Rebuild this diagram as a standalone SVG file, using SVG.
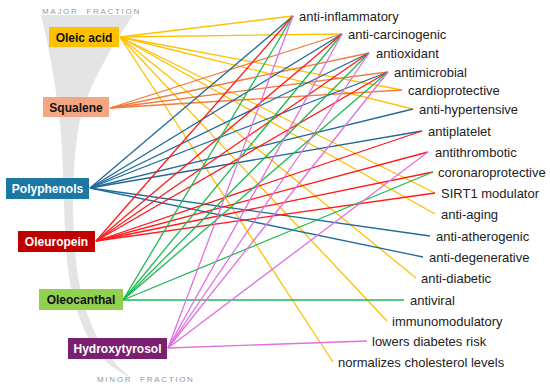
<svg xmlns="http://www.w3.org/2000/svg" width="550" height="389" viewBox="0 0 550 389">
<style>
.lbl{font-family:"Liberation Sans",Arial,sans-serif;font-size:13px;fill:#222}
.nt{font-family:"Liberation Sans",Arial,sans-serif;font-size:12px;font-weight:bold;text-anchor:middle}
.fr{font-family:"Liberation Sans",Arial,sans-serif;font-size:8px;fill:#999;letter-spacing:1.7px;word-spacing:4px}
#connectors line{stroke-width:1.3;fill:none}
.g{stroke:#FFC000}.o{stroke:#F27A3C}.b{stroke:#1F6A98}.r{stroke:#FF1A1A}.gr{stroke:#1DB954}.v{stroke:#E070E0}
</style>
<path d="M41,15 L133,15 C110,50 85,90 78,130 C72,170 72,215 75,250 C78,290 88,325 105,350 C113,362 122,371 132,378 C118,372 106,363 97,352 C80,328 70,295 67,260 C64,225 64,190 62,150 C60,110 52,60 41,15 Z" fill="#E4E4E4"/>
<text class="fr" x="42" y="14">MAJOR FRACTION</text>
<text class="fr" x="97" y="382">MINOR FRACTION</text>
<g id="connectors">
<line class="g" x1="120" y1="37" x2="293" y2="16"/>
<line class="g" x1="120" y1="37" x2="342" y2="34"/>
<line class="g" x1="120" y1="37" x2="402" y2="90"/>
<line class="g" x1="120" y1="37" x2="413" y2="109"/>
<line class="g" x1="120" y1="37" x2="435" y2="193"/>
<line class="g" x1="120" y1="37" x2="435" y2="214"/>
<line class="g" x1="120" y1="37" x2="416" y2="278"/>
<line class="g" x1="120" y1="37" x2="387" y2="321"/>
<line class="g" x1="120" y1="37" x2="333" y2="362"/>
<line class="o" x1="110" y1="108" x2="342" y2="34"/>
<line class="o" x1="110" y1="108" x2="369" y2="53"/>
<line class="o" x1="110" y1="108" x2="388" y2="72"/>
<line class="o" x1="110" y1="108" x2="402" y2="90"/>
<line class="b" x1="90" y1="188" x2="293" y2="16"/>
<line class="b" x1="90" y1="188" x2="342" y2="34"/>
<line class="b" x1="90" y1="188" x2="369" y2="53"/>
<line class="b" x1="90" y1="188" x2="388" y2="72"/>
<line class="b" x1="90" y1="188" x2="413" y2="109"/>
<line class="b" x1="90" y1="188" x2="422" y2="131"/>
<line class="b" x1="90" y1="188" x2="430" y2="236"/>
<line class="b" x1="90" y1="188" x2="423" y2="257"/>
<line class="r" x1="96" y1="241" x2="293" y2="16"/>
<line class="r" x1="96" y1="241" x2="342" y2="34"/>
<line class="r" x1="96" y1="241" x2="369" y2="53"/>
<line class="r" x1="96" y1="241" x2="388" y2="72"/>
<line class="r" x1="96" y1="241" x2="422" y2="131"/>
<line class="r" x1="96" y1="241" x2="428" y2="152"/>
<line class="r" x1="96" y1="241" x2="433" y2="172"/>
<line class="r" x1="96" y1="241" x2="435" y2="193"/>
<line class="gr" x1="123" y1="300" x2="293" y2="16"/>
<line class="gr" x1="123" y1="300" x2="342" y2="34"/>
<line class="gr" x1="123" y1="300" x2="369" y2="53"/>
<line class="gr" x1="123" y1="300" x2="388" y2="72"/>
<line class="gr" x1="123" y1="300" x2="433" y2="172"/>
<line class="gr" x1="123" y1="300" x2="404" y2="300"/>
<line class="v" x1="168" y1="348" x2="293" y2="16"/>
<line class="v" x1="168" y1="348" x2="342" y2="34"/>
<line class="v" x1="168" y1="348" x2="369" y2="53"/>
<line class="v" x1="168" y1="348" x2="388" y2="72"/>
<line class="v" x1="168" y1="348" x2="428" y2="152"/>
<line class="v" x1="168" y1="348" x2="367" y2="341"/>
</g>
<g id="oleic-acid"><rect x="49" y="27" width="70" height="20" fill="#FFC000"/><text class="nt" x="84" y="41.5" fill="#111">Oleic acid</text></g>
<g id="squalene"><rect x="43" y="97" width="66" height="20" fill="#F4A582"/><text class="nt" x="76" y="111.5" fill="#111">Squalene</text></g>
<g id="polyphenols"><rect x="6" y="178" width="83" height="21" fill="#1A78A3"/><text class="nt" x="47.5" y="192.5" fill="#fff">Polyphenols</text></g>
<g id="oleuropein"><rect x="18" y="231" width="77" height="21" fill="#C00000"/><text class="nt" x="56.5" y="245.5" fill="#fff">Oleuropein</text></g>
<g id="oleocanthal"><rect x="39" y="289" width="84" height="21" fill="#92D050"/><text class="nt" x="81" y="303.5" fill="#111">Oleocanthal</text></g>
<g id="hydroxytyrosol"><rect x="68" y="338" width="99" height="21" fill="#7B1F70"/><text class="nt" x="117.5" y="352.5" fill="#fff">Hydroxytyrosol</text></g>
<g id="labels">
<text class="lbl" x="299" y="20.5">anti-inflammatory</text>
<text class="lbl" x="348" y="38.5">anti-carcinogenic</text>
<text class="lbl" x="376" y="57.5">antioxidant</text>
<text class="lbl" x="394" y="76.5">antimicrobial</text>
<text class="lbl" x="408" y="94.5">cardioprotective</text>
<text class="lbl" x="419" y="113.5">anti-hypertensive</text>
<text class="lbl" x="428" y="135.5">antiplatelet</text>
<text class="lbl" x="435" y="156.5">antithrombotic</text>
<text class="lbl" x="438" y="176.5">coronaroprotective</text>
<text class="lbl" x="441" y="197.5">SIRT1 modulator</text>
<text class="lbl" x="441" y="218.5">anti-aging</text>
<text class="lbl" x="436" y="240.5">anti-atherogenic</text>
<text class="lbl" x="429" y="261.5">anti-degenerative</text>
<text class="lbl" x="421" y="282.5">anti-diabetic</text>
<text class="lbl" x="410" y="304.5">antiviral</text>
<text class="lbl" x="392" y="325.5">immunomodulatory</text>
<text class="lbl" x="372" y="345.5">lowers diabetes risk</text>
<text class="lbl" x="338" y="366.5">normalizes cholesterol levels</text>
</g>
</svg>
